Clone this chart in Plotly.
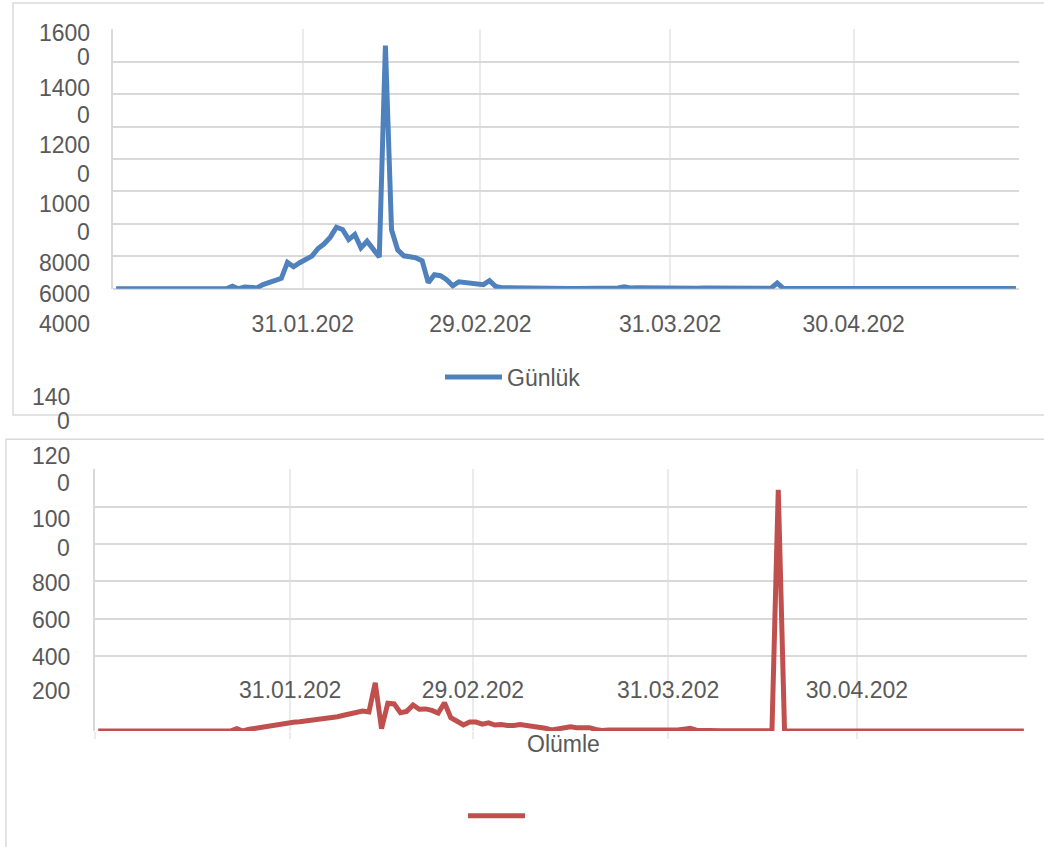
import pandas as pd
import plotly.graph_objects as go

# ---------------- data ----------------
DATE_START = "2019-12-31"
DATE_END = "2020-05-26"

gunluk = (
    [0] * 19                                                     # 31.12 - 18.01
    + [150, 0, 100, 100, 50, 250, 380, 560, 640, 1620, 1350, 1600, 1800]   # 19.01 - 31.01
    + [2010, 2480, 2770, 3180, 3790, 3650, 3030, 3340, 2520, 2930,
       2420, 1950, 15000, 3630, 2400, 2030, 1970, 1900, 1720, 370,
       860, 800, 550, 180, 430, 370, 370, 310, 250]               # 01.02 - 29.02
    + [490, 140, 60, 50, 40, 90, 40, 30, 20, 20,
       20, 10, 10, 20, 20, 20, 20, 30, 40, 40,
       45, 45, 120, 50, 60, 50, 50, 45, 40, 40, 35]               # 01.03 - 31.03
    + [40, 35, 30, 30, 40, 35, 30, 40, 45, 50,
       40, 60, 50, 40, 40, 30, 350, 20, 20, 15,
       15, 15, 12, 10, 10, 10, 10, 10, 8, 8]                      # 01.04 - 30.04
    + [5, 5, 5, 5, 5, 5, 5, 5, 5, 10, 10, 10, 10, 10, 10, 10, 10,
       10, 10, 10, 10, 10, 10, 10, 10, 10]                        # 01.05 - 26.05
)

olumler = (
    [0] * 22                                                     # 31.12 - 21.01
    + [13, 0, 9, 15, 18, 27, 29, 36, 44, 47]                     # 22.01 - 31.01
    + [49, 53, 60, 65, 69, 73, 76, 84, 91, 98,
       107, 102, 258, 13, 149, 145, 98, 105, 139, 116,
       118, 110, 96, 151, 71, 52, 32, 48, 48]                    # 01.02 - 29.02
    + [37, 44, 32, 35, 30, 29, 35, 30, 28, 25,
       15, 6, 10, 20, 22, 18, 20, 18, 8, 3,
       6, 8, 7, 6, 5, 5, 4, 4, 5, 4, 2]                          # 01.03 - 31.03
    + [6, 10, 14, 4, 2, 2, 1, 2, 1, 2,
       2, 1, 1, 0, 1, 2, 1290, 0, 0, 0,
       1, 0, 0, 0, 0, 0, 0, 0, 0, 0]                             # 01.04 - 30.04
    + [0, 0, 0, 0, 0, 0, 0, 0, 0, 0, 0, 0, 0, 1, 0, 0, 0,
       0, 0, 0, 0, 0, 0, 0, 0, 0]                                # 01.05 - 26.05
)

X_TICK_DATES = ["2020-01-31", "2020-02-29", "2020-03-31", "2020-04-30"]
X_TICK_TEXT = ["31.01.202", "29.02.202", "31.03.202", "30.04.202"]

TOP_YTICK_LINES = ["1600", "0", "1400", "0", "1200", "0", "1000", "0", "8000", "6000", "4000"]
BOT_YTICK_LINES = ["140", "0", "120", "0", "100", "0", "800", "600", "400", "200"]

SERIES1_NAME = "Günlük"
SERIES2_TITLE = "Olümle"

# ---------------- layout helpers ----------------
W, H = 1044, 847
def fx(p):
    return p / W
def fy(p):
    return 1 - p / H

TOP_YTICK_PX = [33.3, 56.7, 88.3, 115.0, 145.3, 174.0, 204.3, 232.3, 263.3, 294.3, 324.3]
BOT_YTICK_PX = [396.5, 421.0, 455.8, 483.3, 519.2, 547.5, 583.3, 619.5, 656.9, 690.8]

BLUE = "#4F81BD"
RED = "#C0504D"
TXT = "#595959"
GRID_H = "#d9d9d9"
GRID_V = "#ebebeb"
FONT = "Liberation Sans, Arial, sans-serif"
FS = 23

dates = pd.date_range(DATE_START, DATE_END, freq="D")
xpos = dates + pd.Timedelta(hours=12)   # points sit in the middle of their day
x_range = [DATE_START, str((dates[-1] + pd.Timedelta(days=1)).date())]

fig = go.Figure()
fig.add_trace(go.Scatter(x=xpos, y=gunluk, mode="lines", name=SERIES1_NAME,
                         line=dict(color=BLUE, width=5), xaxis="x", yaxis="y",
                         legend="legend"))
fig.add_trace(go.Scatter(x=xpos, y=olumler, mode="lines", name=" ",
                         line=dict(color=RED, width=5), xaxis="x2", yaxis="y2",
                         legend="legend2"))

annotations = []
for t, p in zip(TOP_YTICK_LINES, TOP_YTICK_PX):
    annotations.append(dict(text=t, x=fx(92), y=fy(p), xref="paper", yref="paper",
                            xanchor="right", yanchor="middle", showarrow=False,
                            font=dict(family=FONT, size=FS, color=TXT)))
for t, p in zip(BOT_YTICK_LINES, BOT_YTICK_PX):
    annotations.append(dict(text=t, x=fx(72), y=fy(p), xref="paper", yref="paper",
                            xanchor="right", yanchor="middle", showarrow=False,
                            font=dict(family=FONT, size=FS, color=TXT)))
annotations.append(dict(text=SERIES2_TITLE, x=fx(563), y=fy(743.5), xref="paper", yref="paper",
                        xanchor="center", yanchor="middle", showarrow=False,
                        font=dict(family=FONT, size=FS, color=TXT)))

shapes = [
    dict(type="rect", xref="paper", yref="paper", x0=fx(13), x1=fx(1060), y0=fy(415), y1=fy(3),
         line=dict(color=GRID_H, width=1.5), fillcolor="rgba(0,0,0,0)", layer="below"),
    dict(type="rect", xref="paper", yref="paper", x0=fx(6), x1=fx(1060), y0=fy(870), y1=fy(439.3),
         line=dict(color=GRID_H, width=1.5), fillcolor="rgba(0,0,0,0)", layer="below"),
]

axis_font = dict(family=FONT, size=FS, color=TXT)

fig.update_layout(
    width=W, height=H,
    margin=dict(l=0, r=0, t=0, b=0),
    paper_bgcolor="white", plot_bgcolor="rgba(0,0,0,0)",
    font=dict(family=FONT, size=FS, color=TXT),
    xaxis=dict(domain=[fx(113), fx(1019)], anchor="y", type="date", range=x_range,
               tickmode="array", tickvals=X_TICK_DATES, ticktext=X_TICK_TEXT,
               showgrid=True, gridcolor=GRID_V, gridwidth=1.5, ticks="",
               showline=False, zeroline=False, tickfont=axis_font,
               ticklabelstandoff=19),
    yaxis=dict(domain=[fy(288.7), fy(29.3)], anchor="x", range=[0, 16000], dtick=2000,
               showgrid=True, gridcolor=GRID_H, gridwidth=1.5,
               zeroline=True, zerolinecolor=GRID_H, zerolinewidth=1.5,
               showline=True, linecolor=GRID_H, linewidth=1.5,
               showticklabels=False, ticks=""),
    xaxis2=dict(domain=[fx(95), fx(1027)], anchor="y2", type="date", range=x_range,
                tickmode="array", tickvals=[DATE_START] + X_TICK_DATES, ticktext=[""] + X_TICK_TEXT,
                showgrid=True, gridcolor=GRID_V, gridwidth=1.5,
                ticks="outside", ticklen=7, tickcolor=GRID_V, tickwidth=1.5,
                ticklabelposition="inside", ticklabelstandoff=25,
                showline=False, zeroline=False, tickfont=axis_font),
    yaxis2=dict(domain=[fy(731), fy(469.3)], anchor="x2", range=[0, 1400], dtick=200,
                showgrid=True, gridcolor=GRID_H, gridwidth=1.5,
                zeroline=True, zerolinecolor=GRID_H, zerolinewidth=1.5,
                showline=True, linecolor=GRID_H, linewidth=1.5,
                showticklabels=False, ticks=""),
    legend=dict(x=fx(440), y=fy(377), xanchor="left", yanchor="middle",
                font=dict(family=FONT, size=FS, color=TXT), itemwidth=57,
                bgcolor="rgba(0,0,0,0)", borderwidth=0),
    legend2=dict(x=fx(463), y=fy(815.7), xanchor="left", yanchor="middle",
                 font=dict(family=FONT, size=FS, color=TXT), itemwidth=57,
                 bgcolor="rgba(0,0,0,0)", borderwidth=0),
    showlegend=True,
    annotations=annotations,
    shapes=shapes,
)

fig.write_html("out.html", config={"displayModeBar": False},
               post_script="document.body.style.margin='0';")
